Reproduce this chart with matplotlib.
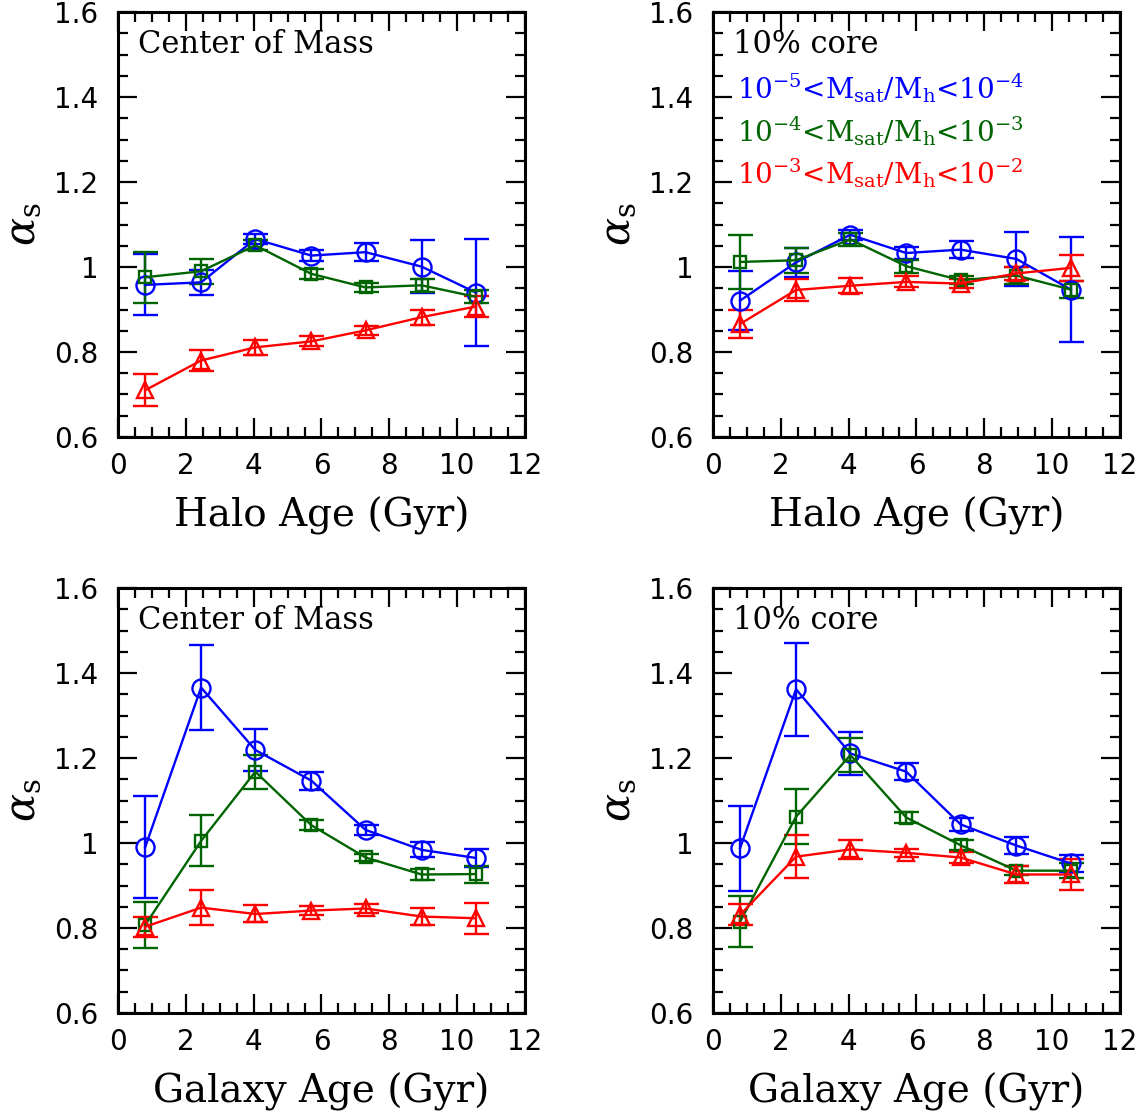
import numpy as np
import matplotlib
matplotlib.use("Agg")
import matplotlib.pyplot as plt
from matplotlib.ticker import MultipleLocator, FixedLocator, FixedFormatter

plt.rcParams['font.family'] = 'DejaVu Serif'
plt.rcParams['mathtext.fontset'] = 'dejavuserif'

# age bins (Gyr), same for every panel
age_bins = [0.8, 2.45, 4.05, 5.7, 7.3, 8.95, 10.55]

# halo age, center of mass
halo_com_blue = [0.958, 0.964, 1.066, 1.027, 1.035, 1.001, 0.940]
halo_com_blue_err = [0.072, 0.03, 0.012, 0.012, 0.021, 0.062, 0.126]
halo_com_green = [0.976, 0.990, 1.051, 0.984, 0.952, 0.957, 0.930]
halo_com_green_err = [0.06, 0.03, 0.012, 0.012, 0.01, 0.015, 0.015]
halo_com_red = [0.710, 0.780, 0.811, 0.825, 0.851, 0.882, 0.907]
halo_com_red_err = [0.038, 0.025, 0.017, 0.012, 0.01, 0.018, 0.025]

# halo age, 10% core
halo_core_blue = [0.921, 1.011, 1.076, 1.033, 1.041, 1.019, 0.947]
halo_core_blue_err = [0.07, 0.035, 0.012, 0.015, 0.02, 0.063, 0.124]
halo_core_green = [1.012, 1.016, 1.065, 1.002, 0.969, 0.980, 0.947]
halo_core_green_err = [0.064, 0.03, 0.015, 0.015, 0.01, 0.02, 0.02]
halo_core_red = [0.866, 0.946, 0.956, 0.965, 0.961, 0.985, 0.998]
halo_core_red_err = [0.032, 0.027, 0.018, 0.013, 0.01, 0.015, 0.03]

# galaxy age, center of mass
gal_com_blue = [0.990, 1.366, 1.219, 1.147, 1.031, 0.984, 0.965]
gal_com_blue_err = [0.12, 0.10, 0.05, 0.021, 0.012, 0.018, 0.022]
gal_com_green = [0.807, 1.005, 1.168, 1.042, 0.966, 0.926, 0.927]
gal_com_green_err = [0.055, 0.06, 0.04, 0.012, 0.008, 0.012, 0.02]
gal_com_red = [0.803, 0.848, 0.833, 0.841, 0.846, 0.827, 0.823]
gal_com_red_err = [0.023, 0.042, 0.02, 0.01, 0.01, 0.02, 0.037]

# galaxy age, 10% core
gal_core_blue = [0.988, 1.362, 1.211, 1.168, 1.044, 0.994, 0.952]
gal_core_blue_err = [0.10, 0.11, 0.05, 0.02, 0.015, 0.02, 0.02]
gal_core_green = [0.815, 1.062, 1.207, 1.060, 0.995, 0.935, 0.935]
gal_core_green_err = [0.06, 0.065, 0.04, 0.012, 0.012, 0.01, 0.018]
gal_core_red = [0.831, 0.968, 0.985, 0.977, 0.966, 0.926, 0.926]
gal_core_red_err = [0.025, 0.05, 0.022, 0.01, 0.012, 0.02, 0.037]

xticks = [0, 2, 4, 6, 8, 10, 12]
yticks = [0.6, 0.8, 1.0, 1.2, 1.4, 1.6]
ytick_labels = ['0.6', '0.8', '1', '1.2', '1.4', '1.6']

mass_bins = [r'$10^{-5}$<M$_{\rm sat}$/M$_{\rm h}$<$10^{-4}$',
             r'$10^{-4}$<M$_{\rm sat}$/M$_{\rm h}$<$10^{-3}$',
             r'$10^{-3}$<M$_{\rm sat}$/M$_{\rm h}$<$10^{-2}$']

BLUE = '#0000ff'
GREEN = '#006400'
RED = '#ff0000'

fig = plt.figure(figsize=(11.4, 11.15), dpi=100)

lefts = [0.1035, 0.6254]
bottoms = [0.6081, 0.0915]
W = 0.357
H = 0.381

panels = [
    (0, 0, 'Halo Age (Gyr)', 'Center of Mass',
     (halo_com_blue, halo_com_blue_err), (halo_com_green, halo_com_green_err), (halo_com_red, halo_com_red_err)),
    (0, 1, 'Halo Age (Gyr)', '10% core',
     (halo_core_blue, halo_core_blue_err), (halo_core_green, halo_core_green_err), (halo_core_red, halo_core_red_err)),
    (1, 0, 'Galaxy Age (Gyr)', 'Center of Mass',
     (gal_com_blue, gal_com_blue_err), (gal_com_green, gal_com_green_err), (gal_com_red, gal_com_red_err)),
    (1, 1, 'Galaxy Age (Gyr)', '10% core',
     (gal_core_blue, gal_core_blue_err), (gal_core_green, gal_core_green_err), (gal_core_red, gal_core_red_err)),
]

for row, col, xlab, title, b, g, r in panels:
    ax = fig.add_axes([lefts[col], bottoms[row], W, H])
    ax.errorbar(age_bins, b[0], yerr=b[1], color=BLUE, marker='o', ms=13, mfc='none',
                mew=1.7, lw=1.7, capsize=9, capthick=1.7, elinewidth=1.7)
    ax.errorbar(age_bins, g[0], yerr=g[1], color=GREEN, marker='s', ms=9, mfc='none',
                mew=1.7, lw=1.7, capsize=9, capthick=1.7, elinewidth=1.7)
    ax.errorbar(age_bins, r[0], yerr=r[1], color=RED, marker='^', ms=11, mfc='none',
                mew=1.7, lw=1.7, capsize=9, capthick=1.7, elinewidth=1.7)

    ax.set_xlim(0, 12)
    ax.set_ylim(0.6, 1.6)
    ax.xaxis.set_major_locator(FixedLocator(xticks))
    ax.xaxis.set_minor_locator(MultipleLocator(0.5))
    ax.yaxis.set_major_locator(FixedLocator(yticks))
    ax.yaxis.set_major_formatter(FixedFormatter(ytick_labels))
    ax.yaxis.set_minor_locator(MultipleLocator(0.05))
    ax.tick_params(which='both', direction='in', top=True, right=True, width=1.6)
    ax.tick_params(which='major', length=14)
    ax.tick_params(which='minor', length=7)
    ax.tick_params(axis='x', which='major', pad=11, labelsize=20)
    ax.tick_params(axis='y', which='major', pad=14, labelsize=20)
    for lbl in ax.get_xticklabels() + ax.get_yticklabels():
        lbl.set_family('DejaVu Sans')
    for s in ax.spines.values():
        s.set_linewidth(2.2)

    ax.set_xlabel(xlab, fontsize=28, labelpad=12)
    ax.set_ylabel(r'$\alpha_{\rm s}$', fontsize=30, labelpad=8)

    ax.text(0.05, 0.96, title, transform=ax.transAxes, fontsize=22,
            ha='left', va='top')
    if row == 0 and col == 1:
        for i, (txt, c) in enumerate(zip(mass_bins, [BLUE, GREEN, RED])):
            ax.text(0.06, 0.86 - 0.1 * i, txt, transform=ax.transAxes,
                    fontsize=20, color=c, ha='left', va='top')

fig.savefig('out.png', dpi=100)
